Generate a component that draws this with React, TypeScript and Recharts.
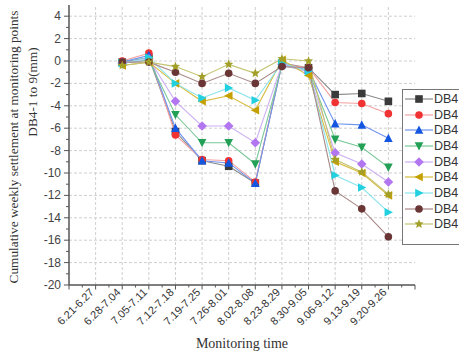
import React from 'react';
import { LineChart, Line, XAxis, YAxis, Legend, ReferenceLine } from 'recharts';

const categories = ['6.21-6.27', '6.28-7.04', '7.05-7.11', '7.12-7.18', '7.19-7.25', '7.26-8.01', '8.02-8.08', '8.23-8.29', '8.30-9.05', '9.06-9.12', '9.13-9.19', '9.20-9.26'];

const db41 = [null, -0.1, 0.3, -6.3, -8.9, -9.4, -10.9, -0.2, -0.6, -3.0, -2.9, -3.6];
const db42 = [null, 0.0, 0.7, -6.6, -8.8, -8.9, -10.8, -0.3, -0.6, -3.7, -3.8, -4.7];
const db43 = [null, -0.1, 0.5, -6.0, -8.9, -9.1, -10.9, -0.3, -0.8, -5.6, -5.7, -6.9];
const db44 = [null, -0.2, 0.1, -4.8, -7.3, -7.3, -9.2, -0.4, -0.9, -7.0, -7.7, -9.5];
const db45 = [null, -0.2, 0.2, -3.6, -5.8, -5.8, -7.3, -0.3, -1.0, -8.2, -9.2, -10.8];
const db46 = [null, -0.4, -0.1, -2.0, -3.6, -3.1, -4.4, 0.1, -1.3, -9.0, -10.0, -12.0];
const db47 = [null, -0.2, 0.3, -2.0, -3.3, -2.4, -3.5, -0.2, -0.9, -10.2, -11.3, -13.5];
const db48 = [null, -0.1, -0.1, -1.0, -2.0, -1.1, -2.0, -0.5, -0.6, -11.6, -13.2, -15.7];
const db49 = [null, -0.4, -0.1, -0.5, -1.4, -0.3, -1.1, 0.2, 0.0, -8.8, -9.9, -11.9];

const seriesNames = ['DB4-1', 'DB4-2', 'DB4-3', 'DB4-4', 'DB4-5', 'DB4-6', 'DB4-7', 'DB4-8', 'DB4-9'];
// the reference legend only shows the visible prefix of each name
const legendLabels = ['DB4', 'DB4', 'DB4', 'DB4', 'DB4', 'DB4', 'DB4', 'DB4', 'DB4'];
const seriesValues = [db41, db42, db43, db44, db45, db46, db47, db48, db49];
const markerColors = ['#3a3a3a', '#f03232', '#1556e0', '#22a055', '#b277f0', '#c4a000', '#22d0e0', '#6a3535', '#a2a028'];
const lineColors = ['#8a8a8a', '#f4a0a0', '#6f94f0', '#78c896', '#cdb0f4', '#d8bc40', '#8ce4ec', '#a88888', '#c4c474'];
const shapes = ['square', 'circle', 'up', 'down', 'diamond', 'left', 'right', 'circle', 'star'];

const yTicks = [-20, -19, -18, -17, -16, -15, -14, -13, -12, -11, -10, -9, -8, -7, -6, -5, -4, -3, -2, -1, 0, 1, 2, 3, 4];
const yGrid = [-18, -16, -14, -12, -10, -8, -6, -4, -2, 0, 2, 4];
const xTicks = [0, 0.5, 1, 1.5, 2, 2.5, 3, 3.5, 4, 4.5, 5, 5.5, 6, 6.5, 7, 7.5, 8, 8.5, 9, 9.5, 10, 10.5, 11, 11.5, 12, 12.5, 13];
const xGrid = [1, 2, 3, 4, 5, 6, 7, 8, 9, 10, 11, 12];

const data = categories.map((c, i) => {
  const row: any = { x: i + 1, label: c };
  seriesValues.forEach((arr, k) => { row['s' + k] = arr[i]; });
  return row;
});

const SANS = 'Liberation Sans, Arial, sans-serif';
const SERIF = 'Liberation Serif, Times New Roman, serif';

function marker(shape: string, cx: number, cy: number, fill: string, key?: any) {
  const s = 3.8;
  switch (shape) {
    case 'square':
      return <rect key={key} x={cx - s} y={cy - s} width={2 * s} height={2 * s} fill={fill} />;
    case 'circle':
      return <circle key={key} cx={cx} cy={cy} r={s} fill={fill} />;
    case 'up':
      return <polygon key={key} points={`${cx},${cy - s - 0.8} ${cx + s + 0.5},${cy + s} ${cx - s - 0.5},${cy + s}`} fill={fill} />;
    case 'down':
      return <polygon key={key} points={`${cx},${cy + s + 0.8} ${cx + s + 0.5},${cy - s} ${cx - s - 0.5},${cy - s}`} fill={fill} />;
    case 'diamond':
      return <polygon key={key} points={`${cx},${cy - s - 1} ${cx + s + 1},${cy} ${cx},${cy + s + 1} ${cx - s - 1},${cy}`} fill={fill} />;
    case 'left':
      return <polygon key={key} points={`${cx - s - 0.8},${cy} ${cx + s},${cy - s - 0.5} ${cx + s},${cy + s + 0.5}`} fill={fill} />;
    case 'right':
      return <polygon key={key} points={`${cx + s + 0.8},${cy} ${cx - s},${cy - s - 0.5} ${cx - s},${cy + s + 0.5}`} fill={fill} />;
    case 'star': {
      const pts: string[] = [];
      for (let i = 0; i < 10; i++) {
        const r = i % 2 === 0 ? s + 1 : (s + 1) * 0.45;
        const a = -Math.PI / 2 + (i * Math.PI) / 5;
        pts.push(`${cx + r * Math.cos(a)},${cy + r * Math.sin(a)}`);
      }
      return <polygon key={key} points={pts.join(' ')} fill={fill} />;
    }
    default:
      return <circle key={key} cx={cx} cy={cy} r={s} fill={fill} />;
  }
}

const XTick = (props: any) => {
  const { x, y, payload } = props;
  const v = payload.value;
  const major = Number.isInteger(v);
  const idx = v - 1;
  const label = major && idx >= 0 && idx < categories.length ? categories[idx] : null;
  const ax = x - 1;
  const ay = y + 8;
  return (
    <g>
      <line x1={x} x2={x} y1={y} y2={y + (major ? 4.5 : 2.5)} stroke="#555" strokeWidth={1} />
      {label && (
        <text x={ax} y={ay} transform={`rotate(-45, ${ax}, ${ay})`} textAnchor="end" fontSize={11} fill="#333" fontFamily={SANS}>
          {label}
        </text>
      )}
    </g>
  );
};

const YTick = (props: any) => {
  const { x, y, payload } = props;
  const v = payload.value;
  const major = v % 2 === 0;
  return (
    <g>
      <line x1={x - (major ? 5 : 3)} x2={x} y1={y} y2={y} stroke="#555" strokeWidth={1} />
      {major && (
        <text x={x - 8} y={y} dy={4} textAnchor="end" fontSize={12} fill="#444" fontFamily={SANS}>
          {v}
        </text>
      )}
    </g>
  );
};

const LegendContent = () => (
  <div style={{ border: '1.5px solid #777', background: '#fff', width: 80, height: 156, boxSizing: 'border-box', paddingTop: 1 }}>
    {legendLabels.map((n, i) => (
      <div key={seriesNames[i]} style={{ height: 15.7, display: 'flex', alignItems: 'center' }}>
        <svg width={31} height={14} style={{ display: 'block' }}>
          <line x1={2} x2={30} y1={7} y2={7} stroke={lineColors[i]} strokeWidth={1.2} />
          {marker(shapes[i], 16, 7, markerColors[i])}
        </svg>
        <span style={{ fontFamily: SANS, fontSize: 12.5, color: '#333', whiteSpace: 'nowrap', lineHeight: '14px' }}>{n}</span>
      </div>
    ))}
  </div>
);

export default function App() {
  return (
    <div style={{ position: 'absolute', left: 0, top: 0, width: 459, height: 361, overflow: 'hidden', background: '#fff' }}>
      <LineChart width={459} height={361} data={data} margin={{ top: 5, right: 44, bottom: 0, left: 19 }}>
        <XAxis dataKey="x" type="number" domain={[0, 13]} ticks={xTicks} interval={0} tickSize={0} tickMargin={0}
          tick={<XTick />} tickLine={false} height={76} axisLine={{ stroke: '#555', strokeWidth: 1.5 }}
          label={{ content: () => <text x={242} y={348} textAnchor="middle" fontSize={14} fill="#333" fontFamily={SERIF}>Monitoring time</text> }} />
        <XAxis xAxisId="top" orientation="top" type="number" domain={[0, 13]} tick={false} tickLine={false} height={0} axisLine={{ stroke: '#999', strokeWidth: 2 }} />
        <YAxis type="number" domain={[-20, 5]} ticks={yTicks} interval={0} tickSize={0} tickMargin={0} tick={<YTick />} tickLine={false}
          width={50} axisLine={{ stroke: '#555', strokeWidth: 1.5 }}
          label={{ content: () => (
            <g fontFamily={SERIF} fontSize={13.3} fill="#333">
              <text x={18} y={147} transform="rotate(-90, 18, 147)" textAnchor="middle">Cumulative weekly settlement at monitoring points</text>
              <text x={37} y={92} transform="rotate(-90, 37, 92)" textAnchor="middle">DB4-1 to 9(mm)</text>
            </g>
          ) }} />
        <YAxis yAxisId="right" orientation="right" type="number" domain={[-20, 5]} tick={false} tickLine={false} width={0} axisLine={{ stroke: '#999', strokeWidth: 2 }} />
        {yGrid.map((v) => (
          <ReferenceLine key={'gy' + v} y={v} stroke="#cfcfcf" strokeDasharray="3 2" strokeWidth={1} />
        ))}
        {xGrid.map((v) => (
          <ReferenceLine key={'gx' + v} x={v} stroke="#cfcfcf" strokeDasharray="3 2" strokeWidth={1} />
        ))}
        {seriesNames.map((n, i) => (
          <Line key={n} name={n} dataKey={'s' + i} stroke={lineColors[i]} strokeWidth={1.1} isAnimationActive={false}
            dot={(p: any) => (p.value == null || p.cx == null ? <g key={p.index} /> : marker(shapes[i], p.cx, p.cy, markerColors[i], p.index))}
            activeDot={false} />
        ))}
        <Legend layout="vertical" align="center" verticalAlign="middle" content={<LegendContent />}
          wrapperStyle={{ position: 'absolute', left: 402, top: 89, width: 80, height: 156 }} />
      </LineChart>
    </div>
  );
}
